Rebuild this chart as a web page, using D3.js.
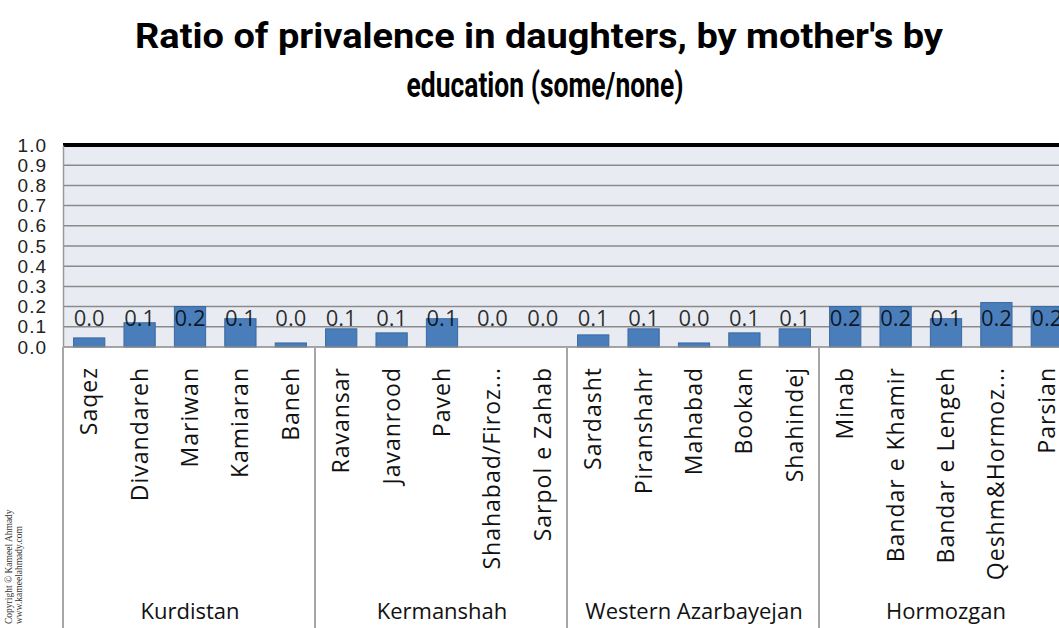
<!DOCTYPE html>
<html><head><meta charset="utf-8">
<script src="https://cdn.jsdelivr.net/npm/d3@7"></script>
<style>body{margin:0;background:#fff;overflow:hidden}svg{display:block}</style>
</head><body>
<svg id="chart" width="1059" height="628"></svg>
<script>
const categories = ["Saqez","Divandareh","Mariwan","Kamiaran","Baneh",
  "Ravansar","Javanrood","Paveh","Shahabad/Firoz...","Sarpol e Zahab",
  "Sardasht","Piranshahr","Mahabad","Bookan","Shahindej",
  "Minab","Bandar e Khamir","Bandar e Lengeh","Qeshm&Hormoz...","Parsian"];
const groups = ["Kurdistan","Kermanshah","Western Azarbayejan","Hormozgan"];
const groupSizes = [5,5,5,5];
const values = [0.045,0.12,0.20,0.14,0.02,
  0.09,0.07,0.14,0.0,0.0,
  0.06,0.09,0.02,0.07,0.09,
  0.20,0.20,0.14,0.22,0.20];
const yTicks = [0,0.1,0.2,0.3,0.4,0.5,0.6,0.7,0.8,0.9,1.0];
const titleLines = ["Ratio of privalence in daughters, by mother's by","education (some/none)"];
const copyright = ["Copyright © Kameel Ahmady","www.kameelahmady.com"];

const svg = d3.select("#chart");
const L = 64, R = 1072, T = 145, B = 347, BOTTOM = 628;
const x = d3.scaleBand().domain(categories).range([L, R]).paddingInner(0.38).paddingOuter(0.19);
const step = x.step();
const y = d3.scaleLinear().domain([0, 1]).range([B, T]);

// title
svg.append("g").selectAll("text").data(titleLines).join("text")
  .attr("x", (d,i)=> i===0 ? 539 : 545)
  .attr("y", (d,i)=> i===0 ? 48 : 97)
  .attr("text-anchor","middle")
  .attr("font-family","Roboto, Lato, 'Open Sans', sans-serif")
  .attr("font-weight","bold").attr("font-size",35)
  .attr("textLength",(d,i)=> i===0 ? 808 : 277)
  .attr("lengthAdjust","spacingAndGlyphs")
  .attr("fill","#000").text(d=>d);

// plot background
svg.append("rect").attr("x", L-1).attr("y", T).attr("width", R-L+1).attr("height", B-T).attr("fill","#e8ecf2");

// gridlines
svg.append("g").selectAll("line").data(yTicks.filter(d=>d>0 && d<1)).join("line")
  .attr("x1", L).attr("x2", R).attr("y1", d=>y(d)).attr("y2", d=>y(d))
  .attr("stroke","#8a8a8a").attr("stroke-width",1.5);

// bars
svg.append("g").selectAll("rect").data(categories).join("rect")
  .attr("x", d=>x(d)).attr("width", x.bandwidth())
  .attr("y", (d,i)=> y(values[i])).attr("height", (d,i)=> B - y(values[i]))
  .attr("fill","#4a7ebb")
  .attr("stroke","#3b68a0").attr("stroke-width",1);

// value labels
svg.append("g").selectAll("text").data(categories).join("text")
  .attr("x", d=> x(d)+x.bandwidth()/2).attr("y", y(0.1)-1)
  .attr("text-anchor","middle")
  .attr("font-family","'Open Sans', sans-serif").attr("font-size",22)
  .attr("fill","#000").attr("fill-opacity",0.82)
  .text((d,i)=> d3.format(".1f")(values[i]));

// top line
svg.append("line").attr("x1", L-1).attr("x2", R).attr("y1", T).attr("y2", T).attr("stroke","#000").attr("stroke-width",4);

// baseline
svg.append("line").attr("x1", L).attr("x2", R).attr("y1", B).attr("y2", B).attr("stroke","#8a8a8a").attr("stroke-width",1.5);

// y axis
const yAxis = d3.axisLeft(y).tickValues(yTicks).tickFormat(d3.format(".1f")).tickSize(0).tickPadding(16);
const ya = svg.append("g").attr("transform",`translate(${L-1},0)`).call(yAxis);
ya.select(".domain").attr("stroke","#9a9a9a").attr("stroke-width",1.5);
ya.selectAll("text").attr("font-family","'Liberation Sans', Arial, sans-serif").attr("font-size",19)
  .attr("letter-spacing",1).attr("fill","#222");

// group separators
let bounds = [0]; groupSizes.reduce((a,b)=>{bounds.push(a+b); return a+b;},0);
svg.append("g").selectAll("line").data(bounds).join("line")
  .attr("x1", d=> L - 1 + d*step).attr("x2", d=> L - 1 + d*step)
  .attr("y1", B).attr("y2", BOTTOM)
  .attr("stroke","#a6a6a6").attr("stroke-width",2);

// category labels
svg.append("g").selectAll("text").data(categories).join("text")
  .attr("transform", d=>`translate(${x(d)+x.bandwidth()/2+8},367) rotate(-90)`)
  .attr("text-anchor","end")
  .attr("font-family","'Open Sans', sans-serif").attr("font-size",23)
  .attr("letter-spacing",1)
  .attr("fill","#111").text(d=>d);

// group labels
svg.append("g").selectAll("text").data(groups).join("text")
  .attr("x", (d,i)=> L + (bounds[i]+groupSizes[i]/2)*step)
  .attr("y", 619)
  .attr("text-anchor","middle")
  .attr("font-family","'Open Sans', sans-serif").attr("font-size",22)
  .attr("fill","#111").text(d=>d);

// copyright
svg.append("g").selectAll("text").data(copyright).join("text")
  .attr("transform",(d,i)=>`translate(${12+i*10},624) rotate(-90)`)
  .attr("font-family","'Liberation Serif', 'Times New Roman', serif").attr("font-size",9.5)
  .attr("fill","#333").text(d=>d);
</script>
</body></html>
